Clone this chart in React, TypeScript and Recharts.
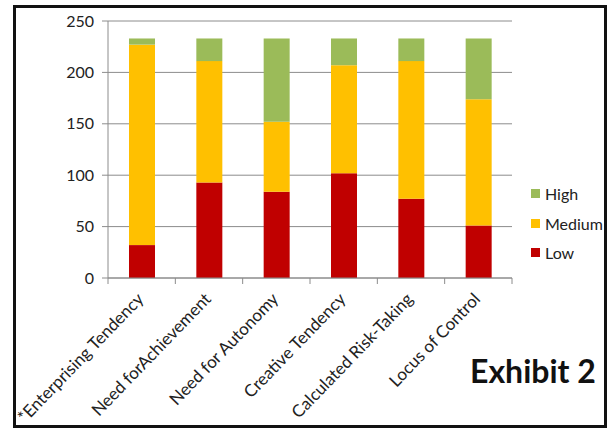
import React from 'react';
import { BarChart, Bar, XAxis, YAxis, CartesianGrid, Legend } from 'recharts';

const categories = [
    '*Enterprising Tendency',
    'Need forAchievement',
    'Need for Autonomy',
    'Creative Tendency',
    'Calculated Risk-Taking',
    'Locus of Control',
];
const lowValues = [32, 93, 84, 102, 77, 51];
const mediumValues = [195, 118, 68, 105, 134, 123];
const highValues = [6, 22, 81, 26, 22, 59];
const yTicks = [0, 50, 100, 150, 200, 250];

const SERIES = [
    { key: 'High', color: '#9BBB59' },
    { key: 'Medium', color: '#FFC000' },
    { key: 'Low', color: '#C00000' },
];

const FONT = 'Lato, "Open Sans", sans-serif';
const AXIS_GRAY = '#8c8c8c';

const data = categories.map((name, i) => ({
    name,
    Low: lowValues[i],
    Medium: mediumValues[i],
    High: highValues[i],
}));

// category label rotated 45deg, plus Excel-style tick marks between categories
const CategoryTick = (props: any) => {
    const { x, y, payload, index, visibleTicksCount } = props;
    const half = payload?.offset || 33.75;
    const isLast = index === (visibleTicksCount ?? categories.length) - 1;
    const ax = x + 3;
    const ay = y + 22;
    return (
        <g>
            <line x1={x - half} y1={y} x2={x - half} y2={y + 6} stroke={AXIS_GRAY} />
            {isLast && <line x1={x + half} y1={y} x2={x + half} y2={y + 6} stroke={AXIS_GRAY} />}
            <text
                x={ax}
                y={ay}
                textAnchor="end"
                transform={`rotate(-46, ${ax}, ${ay})`}
                fontSize={17}
                fontFamily={FONT}
                fill="#222"
            >
                {payload.value}
            </text>
        </g>
    );
};

const LegendContent = () => (
    <div style={{ fontFamily: FONT, fontSize: 16, color: '#222' }}>
        {SERIES.map(s => (
            <div key={s.key} style={{ display: 'flex', alignItems: 'center', height: 29.5 }}>
                <span style={{ display: 'inline-block', width: 9, height: 9, background: s.color, marginRight: 5 }} />
                <span>{s.key}</span>
            </div>
        ))}
    </div>
);

export default function App() {
    return (
        <div style={{ position: 'absolute', left: 0, top: 0, width: 613, height: 428, background: '#fff' }}>
            <div
                style={{
                    position: 'absolute',
                    left: 13,
                    top: 5,
                    width: 588,
                    height: 417,
                    border: '3px solid #111',
                }}
            />
            <div style={{ position: 'absolute', left: 0, top: 0 }}>
                <BarChart
                    width={613}
                    height={428}
                    data={data}
                    margin={{ top: 21, right: 101, bottom: 0, left: 0 }}
                    barSize={26}
                >
                    <CartesianGrid vertical={false} stroke={AXIS_GRAY} />
                    <XAxis
                        dataKey="name"
                        interval={0}
                        stroke={AXIS_GRAY}
                        tickLine={false}
                        tickSize={0}
                        tickMargin={0}
                        height={150}
                        tick={<CategoryTick />}
                    />
                    <YAxis
                        width={108}
                        domain={[0, 250]}
                        ticks={yTicks}
                        stroke={AXIS_GRAY}
                        tickSize={6}
                        tickMargin={8}
                        tick={{ fontSize: 16, fontFamily: FONT, fill: '#222' }}
                    />
                    <Legend
                        layout="vertical"
                        align="center"
                        verticalAlign="middle"
                        content={<LegendContent />}
                        wrapperStyle={{ left: 531, top: 179, width: 80 }}
                    />
                    <Bar dataKey="Low" stackId="a" fill="#C00000" isAnimationActive={false} />
                    <Bar dataKey="Medium" stackId="a" fill="#FFC000" isAnimationActive={false} />
                    <Bar dataKey="High" stackId="a" fill="#9BBB59" isAnimationActive={false} />
                </BarChart>
            </div>
            <div
                style={{
                    position: 'absolute',
                    left: 470,
                    top: 351,
                    fontFamily: FONT,
                    fontWeight: 700,
                    fontSize: 32,
                    color: '#111',
                    lineHeight: '40px',
                }}
            >
                Exhibit 2
            </div>
        </div>
    );
}
